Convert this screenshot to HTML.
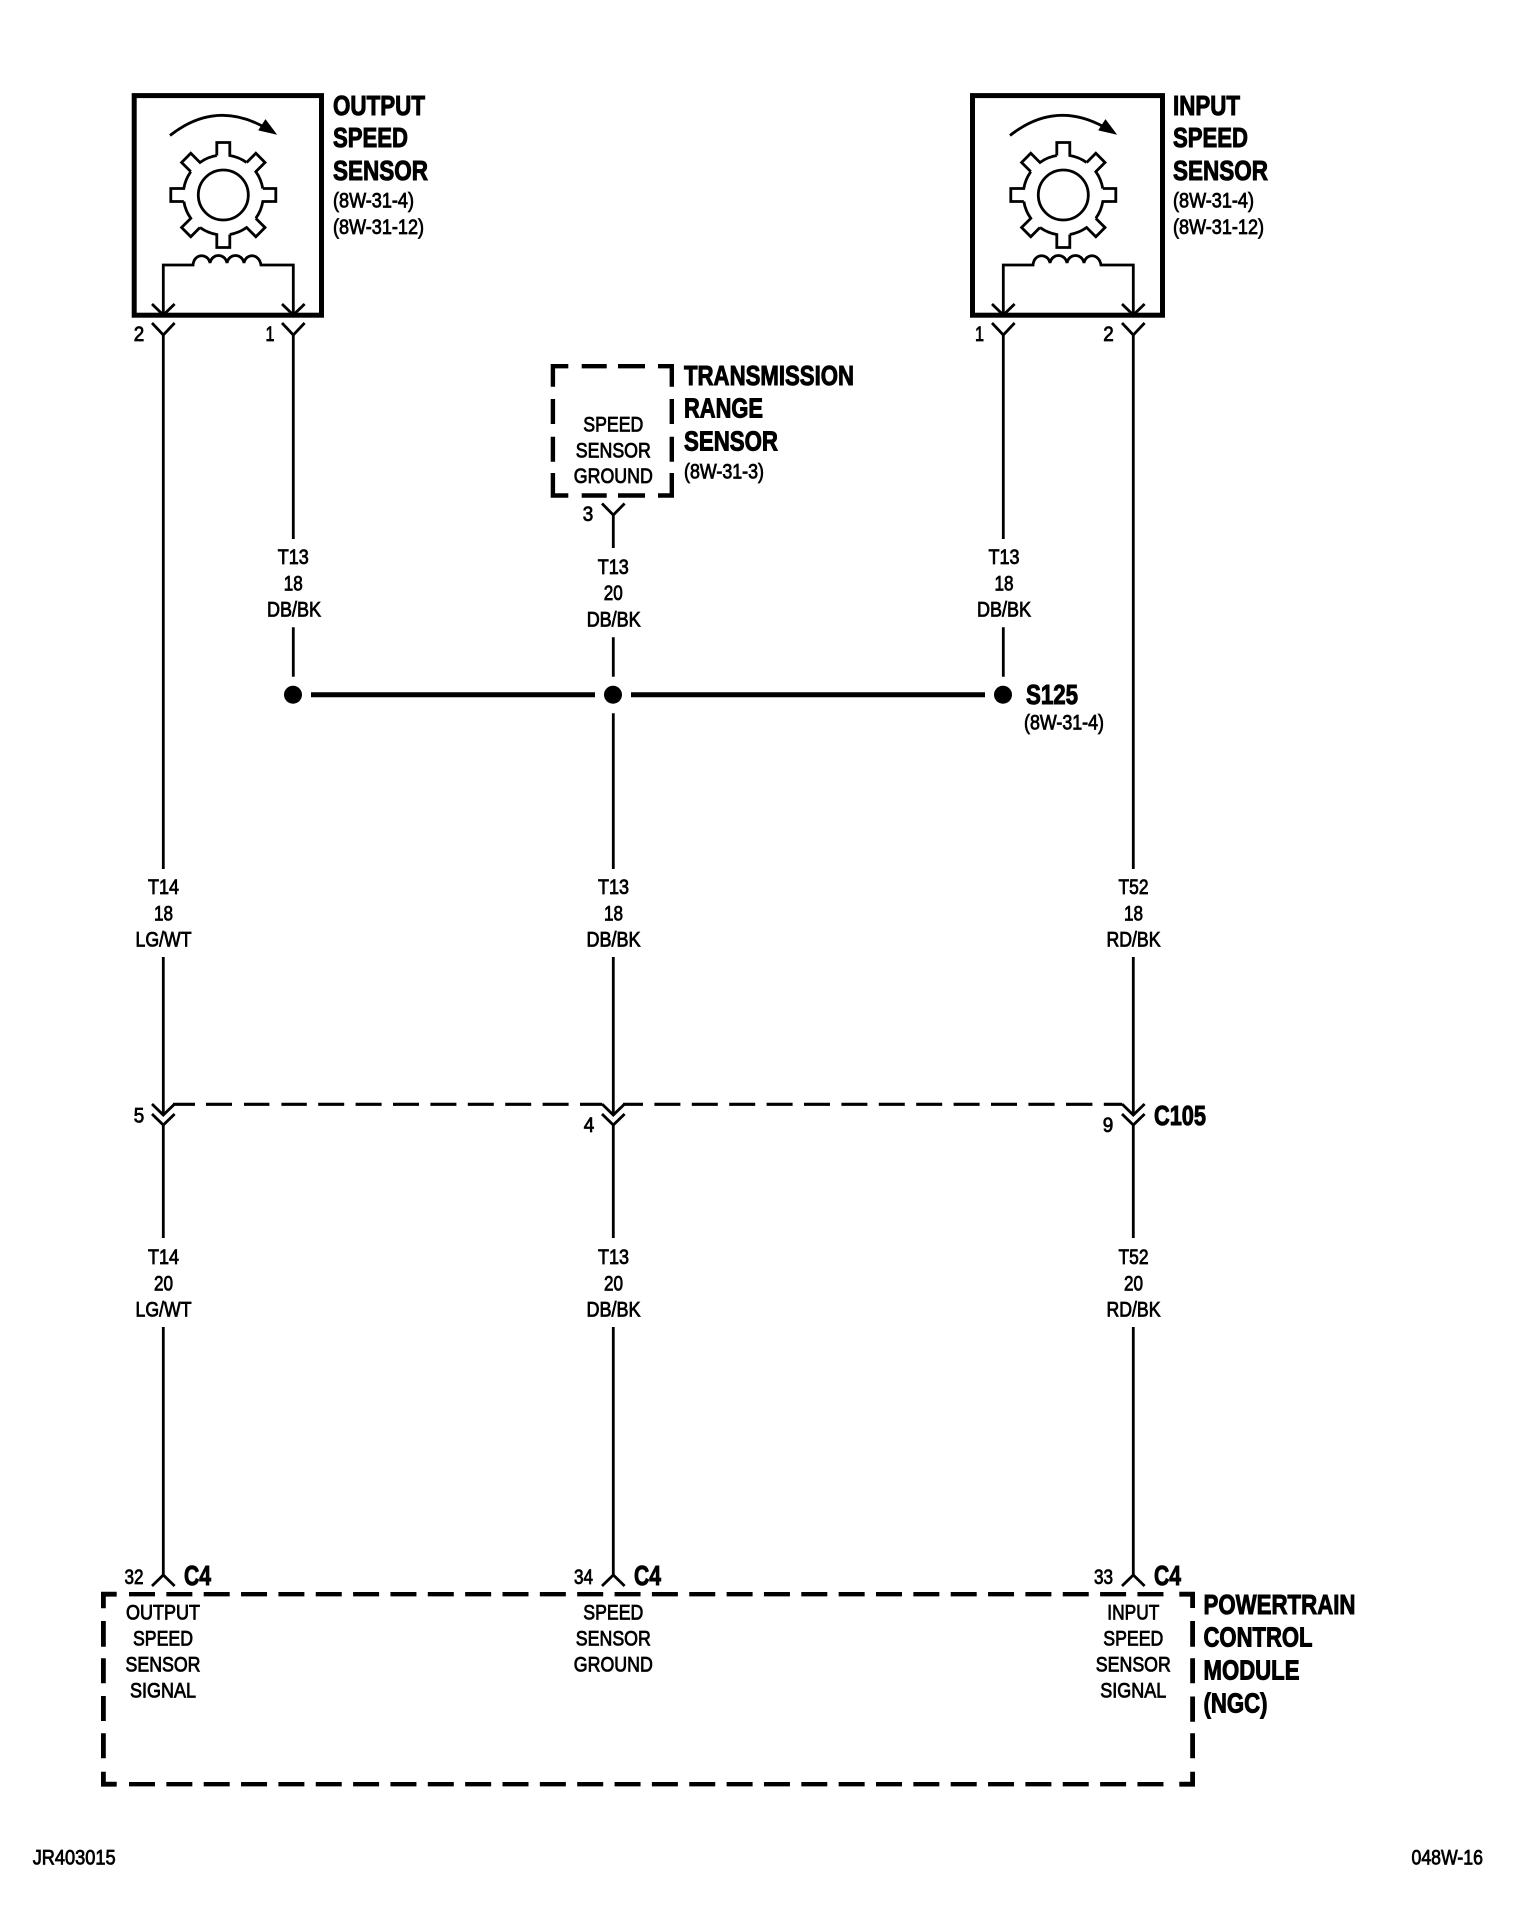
<!DOCTYPE html>
<html lang="en">
<head>
<meta charset="utf-8">
<title>Speed Sensor Wiring Diagram</title>
<style>
html,body{margin:0;padding:0;background:#fff;width:1536px;height:1920px;overflow:hidden}
svg{display:block}
text{font-family:"Liberation Sans",Arial,sans-serif;fill:#000;stroke:#000}
.b{font-size:28px;font-weight:700;stroke-width:1px}
.r{font-size:21px;font-weight:400;stroke-width:.8px;transform:translateY(-1px)}
.m{text-anchor:middle}
.w{fill:none;stroke:#000;stroke-width:2.8}
.t{fill:none;stroke:#000;stroke-width:4.4}
.f{fill:none;stroke:#000;stroke-width:4.8}
</style>
</head>
<body>
<svg width="1536" height="1920" viewBox="0 0 1536 1920" xmlns="http://www.w3.org/2000/svg">
<rect width="1536" height="1920" fill="#fff"/>

<!-- OUTPUT SPEED SENSOR -->
<rect x="134.2" y="95.6" width="187.3" height="219.6" fill="none" stroke="#000" stroke-width="5"/>
<path class="w" d="M170 135.5Q215 100 264 127"/>
<path d="M276 134L265.5 120L259 130Z" fill="#000" stroke="#000"/>
<g class="w" transform="translate(223.3 195)">
  <circle r="25" fill="none"/>
  <path d="M-6.5-39.5V-52.5H6.5V-39.5A40 40 0 0 1 23.3-32.5"/>
  <path d="M-6.5-39.5V-52.5H6.5V-39.5A40 40 0 0 1 23.3-32.5" transform="rotate(45)"/>
  <path d="M-6.5-39.5V-52.5H6.5V-39.5A40 40 0 0 1 23.3-32.5" transform="rotate(90)"/>
  <path d="M-6.5-39.5V-52.5H6.5V-39.5A40 40 0 0 1 23.3-32.5" transform="rotate(135)"/>
  <path d="M-6.5-39.5V-52.5H6.5V-39.5A40 40 0 0 1 23.3-32.5" transform="rotate(180)"/>
  <path d="M-6.5-39.5V-52.5H6.5V-39.5A40 40 0 0 1 23.3-32.5" transform="rotate(225)"/>
  <path d="M-6.5-39.5V-52.5H6.5V-39.5A40 40 0 0 1 23.3-32.5" transform="rotate(270)"/>
  <path d="M-6.5-39.5V-52.5H6.5V-39.5A40 40 0 0 1 23.3-32.5" transform="rotate(315)"/>
</g>
<path class="w" d="M163.3 315V265H193C194 253 208 253 210 263C212 253 225 253 227 263C229 253 242 253 244 263C246 253 259 253 261 265H293.3V315"/>
<path class="w" d="M152 304L163.3 315L174.6 304M282 304L293.3 315L304.6 304"/>
<text class="b" x="333" y="115" textLength="92" lengthAdjust="spacingAndGlyphs">OUTPUT</text>
<text class="b" x="333" y="147" textLength="75" lengthAdjust="spacingAndGlyphs">SPEED</text>
<text class="b" x="333" y="180" textLength="95" lengthAdjust="spacingAndGlyphs">SENSOR</text>
<text class="r" x="333" y="208.5" textLength="81" lengthAdjust="spacingAndGlyphs">(8W-31-4)</text>
<text class="r" x="333" y="235" textLength="91" lengthAdjust="spacingAndGlyphs">(8W-31-12)</text>

<!-- INPUT SPEED SENSOR -->
<rect x="972.5" y="95.6" width="190" height="219.6" fill="none" stroke="#000" stroke-width="5"/>
<path class="w" d="M1010 135.5Q1055 100 1104 127"/>
<path d="M1116 134L1105.5 120L1099 130Z" fill="#000" stroke="#000"/>
<g class="w" transform="translate(1063.3 195)">
  <circle r="25" fill="none"/>
  <path d="M-6.5-39.5V-52.5H6.5V-39.5A40 40 0 0 1 23.3-32.5"/>
  <path d="M-6.5-39.5V-52.5H6.5V-39.5A40 40 0 0 1 23.3-32.5" transform="rotate(45)"/>
  <path d="M-6.5-39.5V-52.5H6.5V-39.5A40 40 0 0 1 23.3-32.5" transform="rotate(90)"/>
  <path d="M-6.5-39.5V-52.5H6.5V-39.5A40 40 0 0 1 23.3-32.5" transform="rotate(135)"/>
  <path d="M-6.5-39.5V-52.5H6.5V-39.5A40 40 0 0 1 23.3-32.5" transform="rotate(180)"/>
  <path d="M-6.5-39.5V-52.5H6.5V-39.5A40 40 0 0 1 23.3-32.5" transform="rotate(225)"/>
  <path d="M-6.5-39.5V-52.5H6.5V-39.5A40 40 0 0 1 23.3-32.5" transform="rotate(270)"/>
  <path d="M-6.5-39.5V-52.5H6.5V-39.5A40 40 0 0 1 23.3-32.5" transform="rotate(315)"/>
</g>
<path class="w" d="M1003.3 315V265H1033C1034 253 1048 253 1050 263C1052 253 1065 253 1067 263C1069 253 1082 253 1084 263C1086 253 1099 253 1101 265H1133.3V315"/>
<path class="w" d="M992 304L1003.3 315L1014.6 304M1122 304L1133.3 315L1144.6 304"/>
<text class="b" x="1173" y="115" textLength="67" lengthAdjust="spacingAndGlyphs">INPUT</text>
<text class="b" x="1173" y="147" textLength="75" lengthAdjust="spacingAndGlyphs">SPEED</text>
<text class="b" x="1173" y="180" textLength="95" lengthAdjust="spacingAndGlyphs">SENSOR</text>
<text class="r" x="1173" y="208.5" textLength="81" lengthAdjust="spacingAndGlyphs">(8W-31-4)</text>
<text class="r" x="1173" y="235" textLength="91" lengthAdjust="spacingAndGlyphs">(8W-31-12)</text>

<!-- Top connectors -->
<path class="w" d="M152 323L163.3 335L174.6 323M282 323L293.3 335L304.6 323M992 323L1003.3 335L1014.6 323M1122 323L1133.3 335L1144.6 323"/>
<text class="r m" x="139" y="342" textLength="10.5" lengthAdjust="spacingAndGlyphs">2</text>
<text class="r m" x="270" y="342" textLength="9" lengthAdjust="spacingAndGlyphs">1</text>
<text class="r m" x="979.5" y="342" textLength="9" lengthAdjust="spacingAndGlyphs">1</text>
<text class="r m" x="1108.5" y="342" textLength="10.5" lengthAdjust="spacingAndGlyphs">2</text>

<!-- Transmission range sensor -->
<path class="t" d="M552.9 386.7V366.2H568.3M581.7 366.2H606.7M618 366.2H645M658 366.2H671.8V386.7M552.9 399V424M552.9 436.7V461.7M552.9 473V495.5H568.3M581.7 495.5H606.7M618 495.5H645M658 495.5H671.8V473M671.8 399V424M671.8 436.7V461.7"/>
<text class="r m" x="613.3" y="432.7" textLength="60" lengthAdjust="spacingAndGlyphs">SPEED</text>
<text class="r m" x="613.3" y="458.3" textLength="75" lengthAdjust="spacingAndGlyphs">SENSOR</text>
<text class="r m" x="613.3" y="484" textLength="79" lengthAdjust="spacingAndGlyphs">GROUND</text>
<text class="b" x="684" y="385" textLength="170" lengthAdjust="spacingAndGlyphs">TRANSMISSION</text>
<text class="b" x="684" y="417.3" textLength="79" lengthAdjust="spacingAndGlyphs">RANGE</text>
<text class="b" x="684" y="450.5" textLength="94" lengthAdjust="spacingAndGlyphs">SENSOR</text>
<text class="r" x="684" y="479.5" textLength="80" lengthAdjust="spacingAndGlyphs">(8W-31-3)</text>
<path class="w" d="M602 503.5L613.3 515L624.6 503.5M613.3 515V548"/>
<text class="r m" x="588" y="522" textLength="10.5" lengthAdjust="spacingAndGlyphs">3</text>

<!-- Wires upper -->
<path class="w" d="M163.3 335V869M163.3 957V1115M163.3 1125V1238M163.3 1327V1575"/>
<path class="w" d="M293.3 335V539M293.3 627.3V676.7"/>
<path class="w" d="M1003.3 335V539M1003.3 627.3V676.7"/>
<path class="w" d="M1133.3 335V869M1133.3 957V1115M1133.3 1125V1238M1133.3 1327V1575"/>
<path class="w" d="M613.3 637.3V676.7M613.3 713.3V869M613.3 957V1115M613.3 1125V1238M613.3 1327V1575"/>

<!-- Splice -->
<circle cx="293" cy="694.7" r="9" fill="#000"/>
<circle cx="613" cy="694.7" r="9" fill="#000"/>
<circle cx="1003" cy="694.7" r="9" fill="#000"/>
<path d="M311 694.7H595M631 694.7H985" fill="none" stroke="#000" stroke-width="5"/>
<text class="b" x="1026" y="704" textLength="52" lengthAdjust="spacingAndGlyphs">S125</text>
<text class="r" x="1024" y="730.5" textLength="80" lengthAdjust="spacingAndGlyphs">(8W-31-4)</text>

<!-- Upper wire labels -->
<text class="r m" x="293.3" y="565" textLength="31" lengthAdjust="spacingAndGlyphs">T13</text>
<text class="r m" x="293.3" y="591.7" textLength="19" lengthAdjust="spacingAndGlyphs">18</text>
<text class="r m" x="294" y="617.7" textLength="54" lengthAdjust="spacingAndGlyphs">DB/BK</text>
<text class="r m" x="613.3" y="575" textLength="31" lengthAdjust="spacingAndGlyphs">T13</text>
<text class="r m" x="613.3" y="601" textLength="19" lengthAdjust="spacingAndGlyphs">20</text>
<text class="r m" x="613.7" y="627.5" textLength="54" lengthAdjust="spacingAndGlyphs">DB/BK</text>
<text class="r m" x="1004" y="565" textLength="31" lengthAdjust="spacingAndGlyphs">T13</text>
<text class="r m" x="1004" y="591.7" textLength="19" lengthAdjust="spacingAndGlyphs">18</text>
<text class="r m" x="1004" y="617.7" textLength="54" lengthAdjust="spacingAndGlyphs">DB/BK</text>

<!-- Middle wire labels -->
<text class="r m" x="163.5" y="895" textLength="31" lengthAdjust="spacingAndGlyphs">T14</text>
<text class="r m" x="163.5" y="921.7" textLength="19" lengthAdjust="spacingAndGlyphs">18</text>
<text class="r m" x="163.5" y="947.7" textLength="56" lengthAdjust="spacingAndGlyphs">LG/WT</text>
<text class="r m" x="613.5" y="895" textLength="31" lengthAdjust="spacingAndGlyphs">T13</text>
<text class="r m" x="613.5" y="921.7" textLength="19" lengthAdjust="spacingAndGlyphs">18</text>
<text class="r m" x="613.5" y="947.7" textLength="54" lengthAdjust="spacingAndGlyphs">DB/BK</text>
<text class="r m" x="1133.5" y="895" textLength="30" lengthAdjust="spacingAndGlyphs">T52</text>
<text class="r m" x="1133.5" y="921.7" textLength="19" lengthAdjust="spacingAndGlyphs">18</text>
<text class="r m" x="1133.5" y="947.7" textLength="54" lengthAdjust="spacingAndGlyphs">RD/BK</text>

<!-- C105 -->
<path d="M173 1104.3H195M206 1104.3H602M623 1104.3H1122" fill="none" stroke="#000" stroke-width="3.2"/>
<g fill="#fff" stroke="none">
  <rect x="232" y="1100" width="12" height="8"/><rect x="269.4" y="1100" width="12" height="8"/><rect x="306.8" y="1100" width="11.4" height="8"/><rect x="344.2" y="1100" width="11.4" height="8"/><rect x="381.6" y="1100" width="11.4" height="8"/><rect x="419" y="1100" width="11.4" height="8"/><rect x="456.4" y="1100" width="11.4" height="8"/><rect x="493.8" y="1100" width="11.4" height="8"/><rect x="531.2" y="1100" width="11.4" height="8"/><rect x="568.6" y="1100" width="11.4" height="8"/>
  <rect x="643" y="1100" width="11.4" height="8"/><rect x="680.4" y="1100" width="11.4" height="8"/><rect x="717.8" y="1100" width="11.4" height="8"/><rect x="755.2" y="1100" width="11.4" height="8"/><rect x="792.6" y="1100" width="11.4" height="8"/><rect x="830" y="1100" width="11.4" height="8"/><rect x="867.4" y="1100" width="11.4" height="8"/><rect x="904.8" y="1100" width="11.4" height="8"/><rect x="942.2" y="1100" width="11.4" height="8"/><rect x="979.6" y="1100" width="11.4" height="8"/><rect x="1017" y="1100" width="11.4" height="8"/><rect x="1054.6" y="1100" width="11.4" height="8"/><rect x="1092.4" y="1100" width="11.4" height="8"/>
</g>
<path class="w" d="M152 1104L163.3 1115L174.6 1104M152 1114L163.3 1125L174.6 1114"/>
<path class="w" d="M602 1104L613.3 1115L624.6 1104M602 1114L613.3 1125L624.6 1114"/>
<path class="w" d="M1122 1104L1133.3 1115L1144.6 1104M1122 1114L1133.3 1125L1144.6 1114"/>
<text class="r m" x="139" y="1123.5" textLength="10.5" lengthAdjust="spacingAndGlyphs">5</text>
<text class="r m" x="589" y="1133" textLength="10.5" lengthAdjust="spacingAndGlyphs">4</text>
<text class="r m" x="1108" y="1133" textLength="10.5" lengthAdjust="spacingAndGlyphs">9</text>
<text class="b" x="1154" y="1125" textLength="52" lengthAdjust="spacingAndGlyphs">C105</text>

<!-- Lower wire labels -->
<text class="r m" x="163.5" y="1265" textLength="31" lengthAdjust="spacingAndGlyphs">T14</text>
<text class="r m" x="163.5" y="1291.7" textLength="19" lengthAdjust="spacingAndGlyphs">20</text>
<text class="r m" x="163.5" y="1317.5" textLength="56" lengthAdjust="spacingAndGlyphs">LG/WT</text>
<text class="r m" x="613.5" y="1265" textLength="31" lengthAdjust="spacingAndGlyphs">T13</text>
<text class="r m" x="613.5" y="1291.7" textLength="19" lengthAdjust="spacingAndGlyphs">20</text>
<text class="r m" x="613.5" y="1317.5" textLength="54" lengthAdjust="spacingAndGlyphs">DB/BK</text>
<text class="r m" x="1133.5" y="1265" textLength="30" lengthAdjust="spacingAndGlyphs">T52</text>
<text class="r m" x="1133.5" y="1291.7" textLength="19" lengthAdjust="spacingAndGlyphs">20</text>
<text class="r m" x="1133.5" y="1317.5" textLength="54" lengthAdjust="spacingAndGlyphs">RD/BK</text>

<!-- C4 connectors -->
<path class="w" d="M152 1586L163.3 1575L174.6 1586M602 1586L613.3 1575L624.6 1586M1122 1586L1133.3 1575L1144.6 1586"/>
<text class="r m" x="134" y="1585" textLength="19" lengthAdjust="spacingAndGlyphs">32</text>
<text class="r m" x="583.5" y="1585" textLength="19" lengthAdjust="spacingAndGlyphs">34</text>
<text class="r m" x="1103.5" y="1585" textLength="19" lengthAdjust="spacingAndGlyphs">33</text>
<text class="b" x="184" y="1585" textLength="27" lengthAdjust="spacingAndGlyphs">C4</text>
<text class="b" x="634" y="1585" textLength="27" lengthAdjust="spacingAndGlyphs">C4</text>
<text class="b" x="1154" y="1585" textLength="27" lengthAdjust="spacingAndGlyphs">C4</text>

<!-- PCM box -->
<path class="f" d="M103.4 1608.3V1594.2H116.7M103.4 1621V1646.7M103.4 1658.3V1683.3M103.4 1696V1721M103.4 1733.3V1758.3M103.4 1771.7V1784.2H116.7"/>
<path class="f" d="M1179.3 1594.2H1192.6V1608M1192.6 1621V1646.7M1192.6 1658.3V1683.3M1192.6 1696.5V1721.7M1192.6 1733.3V1758.3M1192.6 1771.7V1784.2H1179.3"/>
<path d="M129 1594.2H1167M129 1784.2H1167" fill="none" stroke="#000" stroke-width="4.4" stroke-dasharray="26 11.35"/>

<text class="r m" x="163" y="1620.7" textLength="74" lengthAdjust="spacingAndGlyphs">OUTPUT</text>
<text class="r m" x="163" y="1646.7" textLength="60" lengthAdjust="spacingAndGlyphs">SPEED</text>
<text class="r m" x="163" y="1672.7" textLength="75" lengthAdjust="spacingAndGlyphs">SENSOR</text>
<text class="r m" x="163" y="1698.3" textLength="66" lengthAdjust="spacingAndGlyphs">SIGNAL</text>
<text class="r m" x="613.3" y="1620.7" textLength="60" lengthAdjust="spacingAndGlyphs">SPEED</text>
<text class="r m" x="613.3" y="1646.7" textLength="75" lengthAdjust="spacingAndGlyphs">SENSOR</text>
<text class="r m" x="613.3" y="1672.7" textLength="79" lengthAdjust="spacingAndGlyphs">GROUND</text>
<text class="r m" x="1133.3" y="1620.7" textLength="52" lengthAdjust="spacingAndGlyphs">INPUT</text>
<text class="r m" x="1133.3" y="1646.7" textLength="60" lengthAdjust="spacingAndGlyphs">SPEED</text>
<text class="r m" x="1133.3" y="1672.7" textLength="75" lengthAdjust="spacingAndGlyphs">SENSOR</text>
<text class="r m" x="1133.3" y="1698.3" textLength="66" lengthAdjust="spacingAndGlyphs">SIGNAL</text>

<text class="b" x="1203.5" y="1614" textLength="152" lengthAdjust="spacingAndGlyphs">POWERTRAIN</text>
<text class="b" x="1203.5" y="1646.5" textLength="109" lengthAdjust="spacingAndGlyphs">CONTROL</text>
<text class="b" x="1203.5" y="1679.5" textLength="96" lengthAdjust="spacingAndGlyphs">MODULE</text>
<text class="b" x="1203.5" y="1712.5" textLength="64" lengthAdjust="spacingAndGlyphs">(NGC)</text>

<!-- Footer -->
<text class="r" x="32.7" y="1865.7" textLength="83" lengthAdjust="spacingAndGlyphs">JR403015</text>
<text class="r" x="1411.5" y="1865.7" textLength="71.5" lengthAdjust="spacingAndGlyphs">048W-16</text>
</svg>
</body>
</html>
